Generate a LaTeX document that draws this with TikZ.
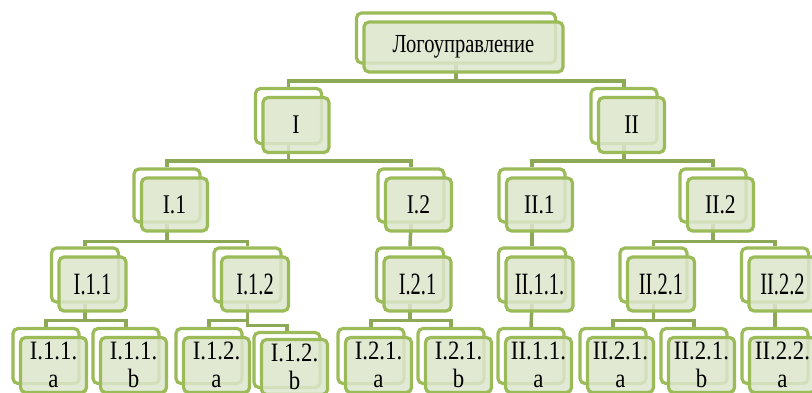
\documentclass[tikz,border=0pt]{standalone}
\usepackage{fontspec}
\setmainfont{Liberation Serif}
% narrow cuts of the same face, one per row of boxes
\newfontfamily\rootfont{Liberation Serif}[FakeStretch=0.79]
\newfontfamily\midfont{Liberation Serif}[FakeStretch=0.8]
\newfontfamily\thirdfont{Liberation Serif}[FakeStretch=0.66]
\newfontfamily\leaffont{Liberation Serif}[FakeStretch=0.86]
\usetikzlibrary{backgrounds}

\definecolor{boxgreen}{RGB}{155,187,89}
\definecolor{boxfill}{RGB}{220,230,204}
\definecolor{linkgreen}{RGB}{141,168,87}

\begin{document}
\begin{tikzpicture}[x=1pt, y=-1pt,
    box/.style={draw=boxgreen, line width=3.2pt, rounded corners=5pt, inner sep=0pt, align=center},
    back/.style={box, fill=white},
    front/.style={box, fill=boxfill, fill opacity=0.85, text opacity=1, shift={(7.5,9)}},
    lvl0/.style={minimum width=199pt, minimum height=50pt, font=\rootfont\fontsize{26}{30}\selectfont},
    lvl1/.style={minimum width=66pt, minimum height=55pt, font=\midfont\fontsize{27}{30}\selectfont},
    lvl2/.style={minimum width=66pt, minimum height=53pt, font=\midfont\fontsize{27}{30}\selectfont},
    lvl3/.style={minimum width=67pt, minimum height=54pt, font=\thirdfont\fontsize{31}{32}\selectfont},
    lvl4/.style={minimum width=66pt, minimum height=55pt, font=\leaffont\fontsize{26.5}{28.5}\selectfont},
    link/.style={draw=linkgreen, line width=3.5pt}
  ]
  \useasboundingbox (0,0) rectangle (812,393);

  % top
  \node[back, lvl0] (root-back) at (456,38) {};
  \node[front, lvl0] (root) at (root-back) {Логоуправление};

  % first level
  \node[back, lvl1] (I-back) at (288.5,116) {};
  \node[front, lvl1] (I) at (I-back) {I};
  \node[back, lvl1] (II-back) at (624,116) {};
  \node[front, lvl1] (II) at (II-back) {II};

  % second level
  \node[back, lvl2] (I1-back) at (167,195.5) {};
  \node[front, lvl2] (I1) at (I1-back) {I.1};
  \node[back, lvl2] (I2-back) at (411,195.5) {};
  \node[front, lvl2] (I2) at (I2-back) {I.2};
  \node[back, lvl2] (II1-back) at (532,195.5) {};
  \node[front, lvl2] (II1) at (II1-back) {II.1};
  \node[back, lvl2] (II2-back) at (713,195.5) {};
  \node[front, lvl2] (II2) at (II2-back) {II.2};

  % third level
  \node[back, lvl3] (I11-back) at (85,275) {};
  \node[front, lvl3] (I11) at (I11-back) {I.1.1};
  \node[back, lvl3] (I12-back) at (247.5,275) {};
  \node[front, lvl3] (I12) at (I12-back) {I.1.2};
  \node[back, lvl3] (I21-back) at (410,275) {};
  \node[front, lvl3] (I21) at (I21-back) {I.2.1};
  \node[back, lvl3] (II11-back) at (532,275) {};
  \node[front, lvl3] (II11) at (II11-back) {II.1.1.};
  \node[back, lvl3] (II21-back) at (653.5,275) {};
  \node[front, lvl3] (II21) at (II21-back) {II.2.1};
  \node[back, lvl3] (II22-back) at (775,275) {};
  \node[front, lvl3] (II22) at (II22-back) {II.2.2};

  % fourth level
  \node[back, lvl4] (I11a-back) at (46,356) {};
  \node[front, lvl4] (I11a) at (I11a-back) {I.1.1.\\a};
  \node[back, lvl4] (I11b-back) at (126,356) {};
  \node[front, lvl4] (I11b) at (I11b-back) {I.1.1.\\b};
  \node[back, lvl4] (I12a-back) at (209,356) {};
  \node[front, lvl4] (I12a) at (I12a-back) {I.1.2.\\a};
  \node[back, lvl4] (I12b-back) at (287,360) {};
  \node[front, lvl4, yshift=2pt] (I12b) at (I12b-back) {I.1.2.\\b};
  \node[back, lvl4] (I21a-back) at (371,356) {};
  \node[front, lvl4] (I21a) at (I21a-back) {I.2.1.\\a};
  \node[back, lvl4] (I21b-back) at (451,356) {};
  \node[front, lvl4] (I21b) at (I21b-back) {I.2.1.\\b};
  \node[back, lvl4] (II11a-back) at (531,356) {};
  \node[front, lvl4] (II11a) at (II11a-back) {II.1.1.\\a};
  \node[back, lvl4] (II21a-back) at (613,356) {};
  \node[front, lvl4] (II21a) at (II21a-back) {II.2.1.\\a};
  \node[back, lvl4] (II21b-back) at (694,356) {};
  \node[front, lvl4] (II21b) at (II21b-back) {II.2.1.\\b};
  \node[back, lvl4] (II22a-back) at (775,356) {};
  \node[front, lvl4] (II22a) at (II22a-back) {II.2.2.\\a};

  % connectors, under the boxes
  \begin{scope}[on background layer]
    \draw[link] (root-back.south) -- ++(0,16.5) -| (I-back.north);
    \draw[link] (root-back.south) -- ++(0,16.5) -| (II-back.north);

    \draw[link] (I-back.south) -- ++(0,16) -| (I1-back.north);
    \draw[link] (I-back.south) -- ++(0,16) -| (I2-back.north);
    \draw[link] (II-back.south) -- ++(0,16) -| (II1-back.north);
    \draw[link] (II-back.south) -- ++(0,16) -| (II2-back.north);

    \draw[link] (I1-back.south) -- ++(0,18) -| (I11-back.north);
    \draw[link] (I1-back.south) -- ++(0,18) -| (I12-back.north);
    \draw[link] (I2-back.south) -- (I21-back.north);
    \draw[link] (II1-back.south) -- (II11-back.north);
    \draw[link] (II2-back.south) -- ++(0,18) -| (II21-back.north);
    \draw[link] (II2-back.south) -- ++(0,18) -| (II22-back.north);

    \draw[link] (I11-back.south) -- ++(0,17) -| (I11a-back.north);
    \draw[link] (I11-back.south) -- ++(0,17) -| (I11b-back.north);
    \draw[link] (I12-back.south) -- ++(0,17) -| (I12a-back.north);
    \draw[link] (I12-back.south) -- ++(0,22) -| (I12b-back.north);
    \draw[link] (I21-back.south) -- ++(0,17) -| (I21a-back.north);
    \draw[link] (I21-back.south) -- ++(0,17) -| (I21b-back.north);
    \draw[link] (II11-back.south) -- (II11a-back.north);
    \draw[link] (II21-back.south) -- ++(0,17) -| (II21a-back.north);
    \draw[link] (II21-back.south) -- ++(0,17) -| (II21b-back.north);
    \draw[link] (II22-back.south) -- (II22a-back.north);
  \end{scope}
\end{tikzpicture}
\end{document}
